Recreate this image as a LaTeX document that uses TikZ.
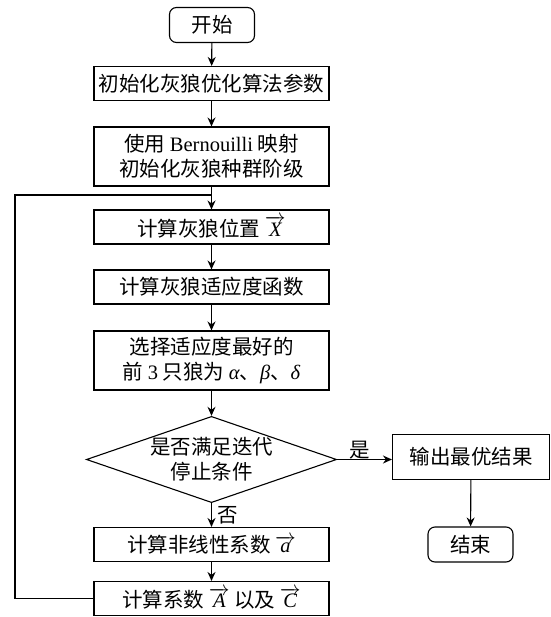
\documentclass[tikz,border=0pt]{standalone}
\usepackage{fontspec}
\setmainfont{Noto Sans CJK SC}
\newfontfamily\lat{Liberation Serif}
\newcommand{\vv}[1]{$\overrightarrow{\hbox{\lat\itshape #1}}$}
\newcommand{\gk}[1]{{\lat\itshape #1}}
\usetikzlibrary{shapes.geometric,arrows.meta}
\begin{document}
\begin{tikzpicture}[x=1pt,y=-1pt,
  every node/.style={font=\fontsize{20.5}{25}\selectfont, align=center, inner sep=0pt},
  box/.style={draw, line width=1.1pt, minimum width=235pt, minimum height=34pt},
  tbox/.style={box, minimum height=59pt},
  term/.style={draw, line width=1.1pt, rounded corners=7pt, minimum width=85pt, minimum height=35pt},
  dec/.style={draw, line width=1.1pt, diamond, aspect=2.9, minimum width=248pt, minimum height=85pt},
  arr/.style={line width=1.1pt, -{Stealth[length=9pt,width=8pt]}},
  ln/.style={line width=1.1pt}]
\useasboundingbox (0,0) rectangle (550,617);
\node[term] (start) at (212,25) {开始};
\node[box] (init) at (211.5,83.5) {初始化灰狼优化算法参数};
\node[tbox] (bern) at (211.5,156.5) {使用 {\lat Bernouilli} 映射\\初始化灰狼种群阶级};
\node[box] (pos) at (211.5,227) {计算灰狼位置 \vv{X}};
\node[box] (fit) at (211.5,287) {计算灰狼适应度函数};
\node[tbox] (sel) at (211.5,360.5) {选择适应度最好的\\前 {\lat 3} 只狼为 \gk{α}、\gk{β}、\gk{δ}};
\node[dec] (dec) at (211.5,459.5) {是否满足迭代\\停止条件};
\node[box, minimum width=157pt, minimum height=45pt] (out) at (471,457) {输出最优结果};
\node[term] (end) at (470.5,544.5) {结束};
\node[box] (nl) at (211.5,544.5) {计算非线性系数 \vv{a}};
\node[box] (coef) at (211.5,598.5) {计算系数 \vv{A} 以及 \vv{C}};
\coordinate (j) at (211.5,195);
\coordinate (lt) at (15,195);
\coordinate (lb) at (15,598.5);
\draw[arr] (start) -- (init);
\draw[arr] (init) -- (bern);
\draw[arr] (bern) -- (pos);
\draw[arr] (pos) -- (fit);
\draw[arr] (fit) -- (sel);
\draw[arr] (sel) -- (dec);
\draw[arr] (dec.east) -- (dec.east -| out.west);
\draw[arr] (out) -- (end);
\draw[arr] (dec) -- (nl);
\draw[arr] (nl) -- (coef);
\draw[ln] (coef.west) -- (lb) -- (lt) -- (j);
\node (yes) at (360,450) {是};
\node (no) at (228,515) {否};
\end{tikzpicture}
\end{document}
